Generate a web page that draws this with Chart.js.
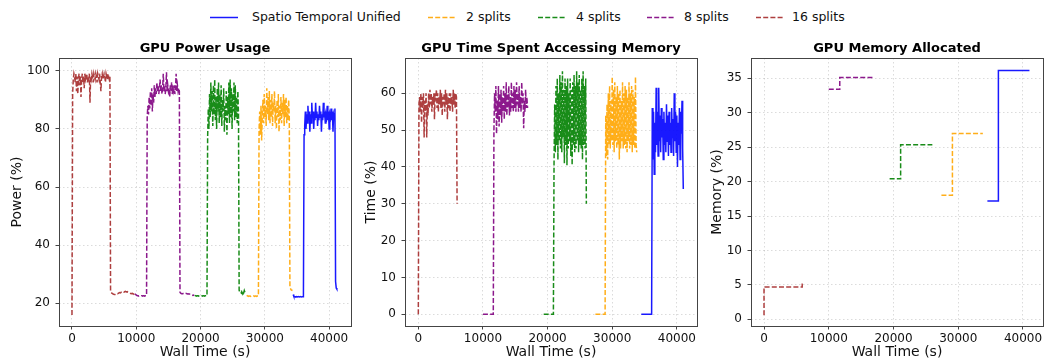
<!DOCTYPE html>
<html>
<head>
<meta charset="utf-8">
<script src="https://cdn.jsdelivr.net/npm/chart.js@4.4.1/dist/chart.umd.min.js"></script>
<style>
  body { margin: 0; background: #fff; font-family: "DejaVu Sans", sans-serif; }
  #page { position: relative; width: 1045px; height: 362px; overflow: hidden; background: #fff; }
  .panel { position: absolute; top: 0; }
  .legend-item { position: absolute; top: 9px; height: 16px; font-size: 12.5px; line-height: 16px; color: #111; white-space: nowrap; }
  .legend-item svg { position: absolute; left: 0; top: 0; }
  .legend-item span { position: absolute; top: 0; }
</style>
</head>
<body>
<div id="page">
  <div id="legend"></div>
  <canvas id="power" class="panel" width="360" height="362" style="left:0px"></canvas>
  <canvas id="memtime" class="panel" width="345" height="362" style="left:360px"></canvas>
  <canvas id="alloc" class="panel" width="340" height="362" style="left:705px"></canvas>
</div>
<script>
// series order: unified, 2, 4, 8, 16 splits
const seriesNames = ["Spatio Temporal Unified", "2 splits", "4 splits", "8 splits", "16 splits"];
const seriesColors = ["rgba(0,0,255,0.9)", "rgba(255,165,0,0.9)", "rgba(0,128,0,0.9)", "rgba(128,0,128,0.9)", "rgba(165,42,42,0.9)"];
const seriesDashed = [false, true, true, true, true];

const wallTimeTicks = [0, 10000, 20000, 30000, 40000];
const powerTicks = [20, 40, 60, 80, 100];
const memTimeTicks = [0, 10, 20, 30, 40, 50, 60];
const allocTicks = [0, 5, 10, 15, 20, 25, 30, 35];

// GPU samples every 100 s
const sampleStep = 100;

// ---- GPU Power Usage (%) ----
const power16Start = 0;
const power16 = [16,
  92, 97, 99, 98, 96, 99, 93, 98, 92, 97,
  99, 95, 98, 91, 97, 99, 96, 98, 94, 99,
  97, 98, 99, 96, 98, 97, 99, 89, 98, 97,
  99, 98, 96, 99, 98, 97, 99, 98, 96, 99,
  98, 97, 99, 96, 93, 98, 99, 97, 98, 99,
  98, 96, 99, 98, 97, 99, 98, 97, 98,
  24.2, 23.8, 23.5, 23.3, 23.2, 23.1, 23.0, 23.0, 23.1, 23.3,
  23.4, 23.3, 23.4, 23.6, 23.7, 23.6, 23.7, 23.9, 24.0, 24.0,
  24.1, 23.9, 24.0, 24.1, 24.0, 23.9, 24.0, 23.8, 23.7, 23.6,
  23.5, 23.4, 23.4, 23.3, 23.4, 23.3, 23.2, 23.0];

const power8Start = 9800;
const power8 = [23.3, 23.0, 22.8,
  22.7, 22.6, 22.6, 22.5, 22.6, 22.6, 22.5, 22.6, 22.6, 22.5, 22.6, 22.6, 22.5, 22.6, 22.6, 22.7,
  84, 88, 85, 91, 87, 93, 88, 94, 86, 92, 89, 95, 91, 94, 92, 96, 93, 95, 92, 94,
  97, 93, 95, 92, 94, 99, 93, 95, 92, 94, 99.5, 93, 95, 93, 94, 91, 95, 93, 96, 92,
  94, 93, 95, 92, 94, 99, 93, 95, 93, 94, 93,
  23.8, 23.5, 23.4, 23.3, 23.3, 23.4, 23.5, 23.4, 23.3, 23.4, 23.4, 23.3, 23.2, 23.2, 23.3,
  23.2, 23.0, 22.9, 22.8, 22.8, 22.7, 22.8, 22.7];

const power4Start = 19100;
const power4 = [22.8,
  22.6, 22.6, 22.5, 22.6, 22.6, 22.5, 22.6, 22.6, 22.5, 22.6, 22.6, 22.5, 22.6, 22.6, 22.5, 22.6, 22.6, 22.6, 22.6,
  77, 87, 80, 92, 84, 96, 86, 93, 81, 95, 85, 97, 83, 91, 80, 94, 86, 96, 82, 92,
  84, 95, 81, 90, 86, 94, 79, 88, 83, 93, 78, 91, 85, 96, 82, 97, 84, 94, 80, 92,
  86, 96, 83, 95, 84, 91, 82, 93, 85,
  24.5, 24.0, 23.6, 23.5, 24.0, 23.4, 24.2, 23.6, 24.4, 23.8, 23.5, 23.3];

const power2Start = 27200;
const power2 = [22.8,
  22.5, 22.5, 22.4, 22.5, 22.5, 22.4, 22.5, 22.5, 22.4, 22.5, 22.5, 22.4, 22.5, 22.5, 22.4, 22.5, 22.5, 22.5,
  80, 86, 78, 88, 76, 84, 90, 82, 92, 84, 88, 81, 94, 85, 91, 83, 93, 82, 90, 84,
  92, 81, 89, 86, 93, 82, 88, 80, 90, 84, 92, 79, 88, 83, 91, 82, 89, 85, 92, 81,
  90, 84, 91, 82, 88, 83, 90, 84,
  25.2, 25.0, 24.6, 24.5, 24.4];

const powerUnifiedStart = 34400;
const powerUnified = [23.0, 22.4,
  22.3, 22.3, 22.2, 22.3, 22.3, 22.2, 22.3, 22.3, 22.2, 22.3, 22.3, 22.2, 22.3, 22.3, 22.3,
  78, 81, 86, 80, 85, 82, 88, 83, 86, 79, 85, 82, 89, 84, 86, 80, 85, 83, 89, 84,
  86, 81, 85, 83, 88, 84, 86, 79, 85, 83, 89, 84, 86, 82, 85, 84, 88, 83, 86, 80,
  85, 84, 87, 83, 86, 79, 85, 84, 87,
  27.5, 25.3, 24.9, 24.8];

// ---- GPU Time Spent Accessing Memory (%) ----
const time16Start = 0;
const time16 = [0,
  57, 59, 55, 60, 52, 59, 56, 60, 48, 58,
  55, 60, 48, 57, 54, 60, 56, 61, 57, 60,
  55, 59, 57, 60, 53, 60, 58, 61, 56, 60,
  55, 59, 57, 61, 56, 60, 54, 59, 57, 60,
  55, 61, 57, 60, 53, 59, 56, 60, 55, 60,
  57, 59, 55, 61, 57, 60, 56, 60, 59,
  30];

const time8Start = 10000;
const time8 = [0, 0, 0, 0, 0, 0, 0, 0, 0, 0, 0, 0, 0, 0, 0, 0, 0,
  50, 60, 55, 62, 49, 58, 53, 62, 51, 60, 54, 61, 52, 59, 55, 62, 53, 60, 55, 63,
  54, 60, 56, 62, 54, 59, 55, 63, 56, 60, 55, 62, 56, 61, 55, 63, 57, 60, 55, 62,
  56, 59, 55, 63, 57, 60, 50.5, 58, 55, 61, 56, 59, 56];

const time4Start = 19400;
const time4 = [0, 0, 0, 0, 0, 0, 0, 0, 0, 0, 0, 0, 0, 0, 0, 0,
  41, 57, 44, 62, 46, 64, 42, 60, 47, 65, 45, 63, 44, 66, 48, 61, 41, 64, 46, 62,
  40.5, 64, 45, 60, 47, 64, 43, 61, 40.5, 63, 46, 65, 44, 62, 45, 66, 47, 63, 44, 65,
  46, 61, 45, 64, 42, 66, 46, 62, 45, 64,
  30];

const time2Start = 27400;
const time2 = [0, 0, 0, 0, 0, 0, 0, 0, 0, 0, 0, 0, 0, 0, 0, 0,
  54, 43, 57, 42, 60, 46, 62, 45, 58, 47, 64.5, 46, 61, 44, 63, 47, 59, 45, 62, 46,
  60, 42, 61, 45, 58, 47, 63, 45, 60, 46, 62, 45, 61, 44, 59, 47, 63, 45, 60, 46,
  62, 44, 61, 46, 59, 45, 64.5, 46, 44];

const timeUnifiedStart = 34500;
const timeUnified = [0, 0, 0, 0, 0, 0, 0, 0, 0, 0, 0, 0, 0, 0, 0, 0, 0,
  56, 42, 55, 38, 52, 44, 61.5, 46, 55, 43, 61.5, 47, 54, 44, 56, 48, 53, 42, 55, 46,
  52, 44, 57, 47, 54, 43, 55, 46, 52, 44, 56, 48, 53, 43, 60, 47, 55, 44, 54, 40,
  52, 46, 56, 42, 55, 49, 58, 45,
  34];

// ---- GPU Memory Allocated (%) : [time, value] pairs ----
const alloc16Time = [0, 0, 5900, 5900, 6000];
const alloc16 = [0.6, 4.7, 4.7, 5.1, 5.1];
const alloc8Time = [10000, 11700, 11700, 16900];
const alloc8 = [33.4, 33.4, 35.1, 35.1];
const alloc4Time = [19400, 21100, 21100, 26000];
const alloc4 = [20.4, 20.4, 25.35, 25.35];
const alloc2Time = [27400, 29100, 29100, 33800];
const alloc2 = [18.0, 18.0, 27.0, 27.0];
const allocUnifiedTime = [34500, 36200, 36200, 41000];
const allocUnified = [17.2, 17.2, 36.15, 36.15];

Chart.defaults.font.family = '"DejaVu Sans", sans-serif';
Chart.defaults.color = "#111";

function sampled(start, values) {
  return values.map((v, i) => ({ x: start + i * sampleStep, y: v }));
}

function paired(times, values) {
  return times.map((t, i) => ({ x: t, y: values[i] }));
}

function makeDatasets(seriesData) {
  return seriesData.map((data, i) => ({
    label: seriesNames[i],
    data: data,
    borderColor: seriesColors[i],
    borderWidth: 1.5,
    borderDash: seriesDashed[i] ? [5, 2.2] : [],
    pointRadius: 0,
    fill: false,
    tension: 0,
  }));
}

const framePlugin = {
  id: "frame",
  afterDraw(chart, args, opts) {
    const { ctx, chartArea: a } = chart;
    ctx.save();
    ctx.strokeStyle = "#444";
    ctx.lineWidth = 1;
    ctx.strokeRect(Math.round(a.left) + 0.5, Math.round(a.top) + 0.5,
      Math.round(a.right - a.left), Math.round(a.bottom - a.top));
    ctx.fillStyle = "#000";
    ctx.font = 'bold 13px "DejaVu Sans"';
    ctx.textAlign = "center";
    ctx.textBaseline = "middle";
    ctx.fillText(opts.title, (a.left + a.right) / 2, 49);
    ctx.restore();
  },
};

function makeChart(id, cfg) {
  const gridStyle = { color: "rgba(0,0,0,0.14)", tickColor: "#444", tickLength: 3.5, lineWidth: 1 };
  new Chart(document.getElementById(id), {
    type: "line",
    data: { datasets: makeDatasets(cfg.data) },
    plugins: [framePlugin],
    options: {
      responsive: false,
      animation: false,
      events: [],
      layout: { padding: { left: 0, top: 58, right: cfg.padRight, bottom: 0 } },
      plugins: {
        legend: { display: false },
        tooltip: { enabled: false },
        frame: { title: cfg.title },
      },
      scales: {
        x: {
          type: "linear",
          min: cfg.xMin,
          max: cfg.xMax,
          afterBuildTicks: (s) => { s.ticks = wallTimeTicks.map((v) => ({ value: v })); },
          afterFit: (s) => { s.height = 36; },
          ticks: { color: "#111", font: { size: 12 }, padding: 2, maxRotation: 0, autoSkip: false, callback: (v) => String(v) },
          grid: gridStyle,
          border: { display: false, dash: [1.5, 2.5] },
          title: { display: true, text: "Wall Time (s)", font: { size: 14 }, color: "#111", padding: { top: 0, bottom: 1 } },
        },
        y: {
          min: cfg.yMin,
          max: cfg.yMax,
          afterBuildTicks: (s) => { s.ticks = cfg.yTicks.map((v) => ({ value: v })); },
          afterFit: (s) => { s.width = cfg.yWidth; },
          ticks: { color: "#111", font: { size: 12 }, padding: 5.5, autoSkip: false, callback: (v) => String(v) },
          grid: gridStyle,
          border: { display: false, dash: [1.5, 2.5] },
          title: { display: true, text: cfg.yLabel, font: { size: 14 }, color: "#111", padding: { top: cfg.yTitlePad, bottom: 0 } },
        },
      },
    },
  });
}

makeChart("power", {
  title: "GPU Power Usage",
  yLabel: "Power (%)",
  data: [
    sampled(powerUnifiedStart, powerUnified),
    sampled(power2Start, power2),
    sampled(power4Start, power4),
    sampled(power8Start, power8),
    sampled(power16Start, power16),
  ],
  xMin: -2020, xMax: 43400, yMin: 12.2, yMax: 104.4,
  yTicks: powerTicks, yWidth: 59, yTitlePad: 8.6, padRight: 9,
});

makeChart("memtime", {
  title: "GPU Time Spent Accessing Memory",
  yLabel: "Time (%)",
  data: [
    sampled(timeUnifiedStart, timeUnified),
    sampled(time2Start, time2),
    sampled(time4Start, time4),
    sampled(time8Start, time8),
    sampled(time16Start, time16),
  ],
  xMin: -2060, xMax: 43120, yMin: -3.2, yMax: 69.6,
  yTicks: memTimeTicks, yWidth: 45, yTitlePad: 3.3, padRight: 8,
});

makeChart("alloc", {
  title: "GPU Memory Allocated",
  yLabel: "Memory (%)",
  data: [
    paired(allocUnifiedTime, allocUnified),
    paired(alloc2Time, alloc2),
    paired(alloc4Time, alloc4),
    paired(alloc8Time, alloc8),
    paired(alloc16Time, alloc16),
  ],
  xMin: -2010, xMax: 43090, yMin: -0.97, yMax: 37.95,
  yTicks: allocTicks, yWidth: 46, yTitlePad: 3.9, padRight: 2,
});

// legend row
const legendSampleLeft = [210, 428, 538, 647, 756];
const legendTextLeft = [252, 466, 576, 684, 792];
const legend = document.getElementById("legend");
seriesNames.forEach((name, i) => {
  const item = document.createElement("div");
  item.className = "legend-item";
  item.style.left = legendSampleLeft[i] + "px";
  const dash = seriesDashed[i] ? 'stroke-dasharray="5 2.2"' : "";
  item.innerHTML =
    `<svg width="30" height="16"><line x1="0" y1="8.5" x2="28" y2="8.5" stroke="${seriesColors[i]}" stroke-width="1.5" ${dash}/></svg>` +
    `<span style="left:${legendTextLeft[i] - legendSampleLeft[i]}px">${name}</span>`;
  legend.appendChild(item);
});
</script>
</body>
</html>
